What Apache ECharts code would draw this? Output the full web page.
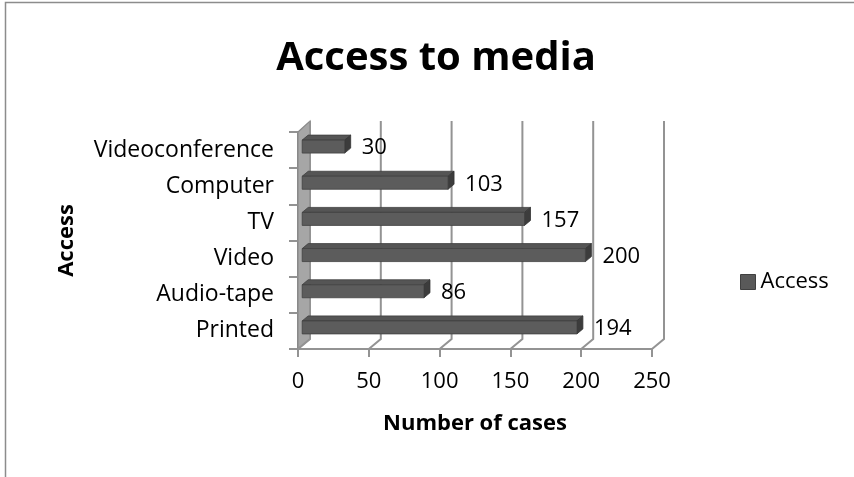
<!DOCTYPE html>
<html><head><meta charset="utf-8">
<script src="https://cdn.jsdelivr.net/npm/echarts@6/dist/echarts.min.js"></script>
<style>html,body{margin:0;padding:0;background:#fff}#c{width:854px;height:477px}</style>
</head><body><div id="c"></div>
<script>
const categories = ['Printed', 'Audio-tape', 'Video', 'TV', 'Computer', 'Videoconference'];
const accessValues = [194, 86, 200, 157, 103, 30];
const xTicks = [0, 50, 100, 150, 200, 250];
const seriesName = 'Access';
const chartTitle = 'Access to media';
const xAxisTitle = 'Number of cases';
const yAxisTitle = 'Access';

const DX = 12, DY = -10;      // 3D depth offset (pixels)
const F1 = 0.35, F2 = 0.85;   // bar depth position
const FONT = '"Open Sans", sans-serif';
const GRID_COLOR = '#939393';

function wallsRender(params, api) {
  const cs = params.coordSys;
  const x0 = cs.x, y0 = cs.y, yb = cs.y + cs.height;
  const children = [];
  children.push({
    type: 'polygon',
    shape: { points: [[x0, y0], [x0 + DX, y0 + DY - 1], [x0 + DX, yb + DY], [x0, yb]] },
    style: { fill: '#a6a6a6', stroke: '#8a8a8a', lineWidth: 1.2 }
  });
  xTicks.forEach(function (v) {
    const x = api.coord([v, 0])[0];
    children.push({
      type: 'polyline',
      shape: { points: [[x + DX, y0 + DY - 1], [x + DX, yb + DY], [x, yb]] },
      style: { stroke: GRID_COLOR, lineWidth: 2, fill: null }
    });
  });
  return { type: 'group', children: children };
}

function barRender(params, api) {
  const v = api.value(0), ci = api.value(1);
  const s = api.coord([0, ci]);
  const e = api.coord([v, ci]);
  const hh = 6.5;
  const cy = s[1];
  const fx = DX * F1, fy = DY * F1;
  const dx = DX * (F2 - F1), dy = DY * (F2 - F1);
  const xs = s[0] + fx, xe = e[0] + fx;
  const yt = cy - hh + fy, ybt = cy + hh + fy;
  return {
    type: 'group',
    children: [
      { type: 'polygon', shape: { points: [[xs, yt], [xe, yt], [xe + dx, yt + dy], [xs + dx, yt + dy]] },
        style: { fill: '#555555', stroke: '#3f3f3f', lineWidth: 0.8 } },
      { type: 'polygon', shape: { points: [[xe, yt], [xe + dx, yt + dy], [xe + dx, ybt + dy], [xe, ybt]] },
        style: { fill: '#3c3c3c', stroke: '#333', lineWidth: 0.8 } },
      { type: 'rect', shape: { x: xs, y: yt, width: xe - xs, height: ybt - yt },
        style: { fill: '#5c5c5c', stroke: '#404040', lineWidth: 0.8 } },
      { type: 'text', x: e[0] + DX * F2 + 11, y: cy - 2,
        style: { text: String(v), fontSize: 22, fontFamily: FONT, fill: '#000', align: 'left', verticalAlign: 'middle' } }
    ]
  };
}

const chart = echarts.init(document.getElementById('c'), null, { renderer: 'canvas' });
chart.setOption({
  animation: false,
  backgroundColor: '#fff',
  title: {
    text: chartTitle, left: 431, top: 34, textAlign: 'center',
    textStyle: { fontFamily: FONT, fontSize: 40, fontWeight: 'bold', color: '#000' }
  },
  graphic: [{
    type: 'rect', z: -10, silent: true,
    shape: { x: 5.5, y: 2.5, width: 900, height: 600 },
    style: { fill: null, stroke: '#8c8c8c', lineWidth: 1.5 }
  }],
  legend: {
    data: [{ name: seriesName, icon: 'rect' }],
    left: 740, top: 271, orient: 'vertical', padding: 0,
    itemWidth: 15, itemHeight: 15, itemGap: 8,
    textStyle: { fontFamily: FONT, fontSize: 22, color: '#000' },
    itemStyle: { borderColor: '#404040', borderWidth: 1 }
  },
  grid: { left: 298, top: 132, width: 354, height: 217, outerBoundsMode: 'none' },
  xAxis: {
    type: 'value', min: 0, max: 250, interval: 50,
    splitLine: { show: false },
    axisLine: { show: true, lineStyle: { color: GRID_COLOR, width: 2 } },
    axisTick: { show: true, length: 8, lineStyle: { color: GRID_COLOR, width: 2 } },
    axisLabel: { fontFamily: FONT, fontSize: 22, color: '#000', margin: 22 },
    name: xAxisTitle, nameLocation: 'middle', nameGap: 64,
    nameTextStyle: { fontFamily: FONT, fontSize: 22, fontWeight: 'bold', color: '#000' }
  },
  yAxis: {
    type: 'category', data: categories,
    axisLine: { show: true, lineStyle: { color: '#8a8a8a', width: 2 } },
    axisTick: { show: true, length: 9, lineStyle: { color: GRID_COLOR, width: 2 } },
    axisLabel: { fontFamily: FONT, fontSize: 23, color: '#000', margin: 24 },
    name: yAxisTitle, nameLocation: 'middle', nameGap: 220,
    nameTextStyle: { fontFamily: FONT, fontSize: 22, fontWeight: 'bold', color: '#000' }
  },
  series: [
    { type: 'custom', name: 'walls', z: 1, silent: true, renderItem: wallsRender, data: [[0, 0]], encode: { x: 0, y: 1 } },
    { type: 'custom', name: seriesName, z: 3, renderItem: barRender,
      itemStyle: { color: '#595959' },
      data: accessValues.map(function (v, i) { return [v, i]; }), encode: { x: 0, y: 1 } }
  ]
});
</script>
</body></html>
